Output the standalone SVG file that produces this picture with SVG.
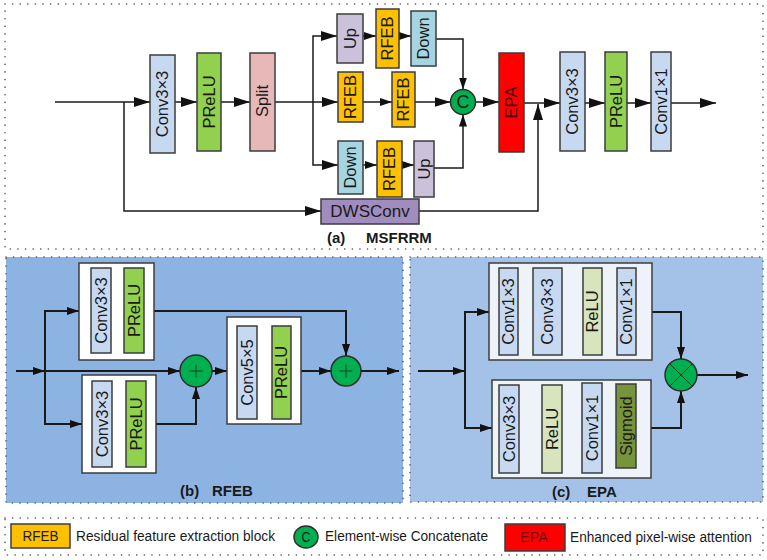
<svg xmlns="http://www.w3.org/2000/svg" width="767" height="560" viewBox="0 0 767 560">
<style>
.bg{fill:#ffffff}
.dot{fill:none;stroke:#555;stroke-width:1.6;stroke-dasharray:0.1 7.5;stroke-linecap:round}
.blk{stroke:#3d3d3d;stroke-width:1.5}
.conv{fill:#c6d9f1}
.prelu{fill:#92d050}
.split{fill:#e6b9b8}
.up{fill:#ccc1da}
.rfeb{fill:#ffc000}
.down{fill:#a5d5e0}
.epa{fill:#ff0000}
.dws{fill:#a08cbe}
.relu{fill:#d7e4bd}
.sig{fill:#77933c}
.wbox{fill:#ffffff}
.lbox{fill:#eef3fa}
.circ{fill:#00b050;stroke:#2d2d2d;stroke-width:1.5}
.t{font-family:"Liberation Sans",Arial,sans-serif;font-size:16.5px;fill:#1a1a1a;text-anchor:middle}
.lab{font-family:"Liberation Sans",Arial,sans-serif;font-size:15px;font-weight:bold;fill:#1a1a1a}
.leg{font-family:"Liberation Sans",Arial,sans-serif;font-size:14px;fill:#1a1a1a}
.ln{fill:none;stroke:#1a1a1a;stroke-width:1.5}
.ln2{fill:none;stroke:#1a1a1a;stroke-width:2}
.ln1{fill:none;stroke:#1a1a1a;stroke-width:1}
.sym{fill:none;stroke:#1f3d1f;stroke-width:1}
</style>
<defs>
<marker id="aL" markerWidth="16" markerHeight="10" refX="16" refY="5" orient="auto" markerUnits="userSpaceOnUse"><path d="M0,0 L16,5 L0,10 z" fill="#111"/></marker>
<marker id="aM" markerWidth="12" markerHeight="8" refX="12" refY="4" orient="auto" markerUnits="userSpaceOnUse"><path d="M0,0 L12,4 L0,8 z" fill="#111"/></marker>
<marker id="aS" markerWidth="8" markerHeight="6" refX="8" refY="3" orient="auto" markerUnits="userSpaceOnUse"><path d="M0,0 L8,3 L0,6 z" fill="#111"/></marker>
</defs>
<rect x="0" y="0" width="767" height="560" class="bg"/>

<!-- section frames -->
<g id="frames">
<rect x="5" y="4" width="758" height="245" class="dot"/>
<rect x="6" y="257" width="397" height="246" fill="#8db3e2"/>
<rect x="6" y="257" width="397" height="246" class="dot"/>
<rect x="410" y="257" width="353" height="245" fill="#a4c2e8"/>
<rect x="410" y="257" width="353" height="245" class="dot"/>
<rect x="5" y="518" width="758" height="37" class="dot"/>
</g>

<!-- connectors -->
<g id="connectors">
<!-- (a) -->
<path d="M55,102 H150" class="ln" marker-end="url(#aL)"/>
<path d="M175,102 H197" class="ln" marker-end="url(#aL)"/>
<path d="M221,102 H250" class="ln" marker-end="url(#aL)"/>
<path d="M275,102 H338" class="ln" marker-end="url(#aL)"/>
<path d="M313,102 V36 H337" class="ln" marker-end="url(#aL)"/>
<path d="M313,102 V165 H338" class="ln" marker-end="url(#aL)"/>
<path d="M363,36 H376" class="ln" marker-end="url(#aM)"/>
<path d="M399,36 H411" class="ln" marker-end="url(#aM)"/>
<path d="M436,39 H463 V89.5" class="ln" marker-end="url(#aM)"/>
<path d="M363,102 H392" class="ln" marker-end="url(#aM)"/>
<path d="M415,102 H450.5" class="ln" marker-end="url(#aL)"/>
<path d="M363,165 H377" class="ln" marker-end="url(#aM)"/>
<path d="M402,165 H414" class="ln" marker-end="url(#aM)"/>
<path d="M434,168 H463 V114.5" class="ln" marker-end="url(#aM)"/>
<path d="M475.5,102 H499" class="ln" marker-end="url(#aL)"/>
<path d="M524,103 H560" class="ln" marker-end="url(#aL)"/>
<path d="M585,103 H605" class="ln" marker-end="url(#aL)"/>
<path d="M627,103 H651" class="ln" marker-end="url(#aL)"/>
<path d="M671,103 H716" class="ln" marker-end="url(#aL)"/>
<path d="M124,102 V211 H321" class="ln" marker-end="url(#aL)"/>
<path d="M419,211 H538 V104" class="ln" marker-end="url(#aL)"/>
<!-- (b) -->
<path d="M16,371 H45" class="ln2" marker-end="url(#aM)"/>
<path d="M45,371 V311 H79" class="ln2" marker-end="url(#aM)"/>
<path d="M45,371 V424 H82" class="ln2" marker-end="url(#aM)"/>
<path d="M45,371 H180" class="ln2" marker-end="url(#aM)"/>
<path d="M156,424 H196 V387" class="ln2" marker-end="url(#aM)"/>
<path d="M212,371 H227" class="ln2" marker-end="url(#aM)"/>
<path d="M257,373 H272" class="ln1" marker-end="url(#aS)"/>
<path d="M301,371 H331" class="ln2" marker-end="url(#aM)"/>
<path d="M154,311 H346 V356" class="ln2" marker-end="url(#aM)"/>
<path d="M361,371 H399" class="ln2" marker-end="url(#aM)"/>
<!-- (c) -->
<path d="M418,371 H465" class="ln2" marker-end="url(#aM)"/>
<path d="M465,371 V312 H489" class="ln2" marker-end="url(#aM)"/>
<path d="M465,371 V428 H492" class="ln2" marker-end="url(#aM)"/>
<path d="M518,312 H533" class="ln1" marker-end="url(#aS)"/>
<path d="M562,312 H583" class="ln1" marker-end="url(#aS)"/>
<path d="M602,312 H617" class="ln1" marker-end="url(#aS)"/>
<path d="M519,428 H542" class="ln1" marker-end="url(#aS)"/>
<path d="M562,428 H582" class="ln1" marker-end="url(#aS)"/>
<path d="M602,428 H616" class="ln1" marker-end="url(#aS)"/>
<path d="M652,312 H681 V359" class="ln2" marker-end="url(#aM)"/>
<path d="M651,428 H681 V391" class="ln2" marker-end="url(#aM)"/>
<path d="M697,375 H748" class="ln2" marker-end="url(#aM)"/>
</g>

<!-- (a) MSFRRM nodes -->
<g id="a-conv3"><rect x="150" y="55" width="25" height="98" class="blk conv"/><text transform="translate(162.5,104) rotate(-90)" dy="0.35em" class="t">Conv3×3</text></g>
<g id="a-prelu"><rect x="197" y="53" width="24" height="98" class="blk prelu"/><text transform="translate(209,102) rotate(-90)" dy="0.35em" class="t">PReLU</text></g>
<g id="a-split"><rect x="250" y="53" width="25" height="98" class="blk split"/><text transform="translate(262.5,101) rotate(-90)" dy="0.35em" class="t">Split</text></g>
<g id="a-up1"><rect x="337" y="14" width="26" height="49" class="blk up"/><text transform="translate(350,38.5) rotate(-90)" dy="0.35em" class="t">Up</text></g>
<g id="a-rfeb1"><rect x="376" y="9" width="23" height="59" class="blk rfeb"/><text transform="translate(387.5,38.5) rotate(-90)" dy="0.35em" class="t">RFEB</text></g>
<g id="a-down1"><rect x="411" y="11" width="25" height="55" class="blk down"/><text transform="translate(423.5,38.5) rotate(-90)" dy="0.35em" class="t">Down</text></g>
<g id="a-rfeb2"><rect x="338" y="72" width="25" height="50" class="blk rfeb"/><text transform="translate(350.5,97) rotate(-90)" dy="0.35em" class="t">RFEB</text></g>
<g id="a-rfeb3"><rect x="392" y="72" width="23" height="55" class="blk rfeb"/><text transform="translate(403.5,99.5) rotate(-90)" dy="0.35em" class="t">RFEB</text></g>
<g id="a-down2"><rect x="338" y="141" width="25" height="53" class="blk down"/><text transform="translate(350.5,167.5) rotate(-90)" dy="0.35em" class="t">Down</text></g>
<g id="a-rfeb4"><rect x="377" y="141" width="25" height="56" class="blk rfeb"/><text transform="translate(389.5,169) rotate(-90)" dy="0.35em" class="t">RFEB</text></g>
<g id="a-up2"><rect x="414" y="141" width="20" height="56" class="blk up"/><text transform="translate(424,169) rotate(-90)" dy="0.35em" class="t">Up</text></g>
<g id="a-concat"><circle cx="463" cy="102" r="12.5" class="circ"/><text x="463" y="102" dy="0.36em" class="t" style="font-size:18px">C</text></g>
<g id="a-epa"><rect x="499" y="53" width="25" height="99" class="blk epa"/><text transform="translate(511.5,102.5) rotate(-90)" dy="0.35em" class="t" style="fill:#4a0000">EPA</text></g>
<g id="a-conv3b"><rect x="560" y="52" width="25" height="99" class="blk conv"/><text transform="translate(572.5,101.5) rotate(-90)" dy="0.35em" class="t">Conv3×3</text></g>
<g id="a-prelu2"><rect x="605" y="52" width="22" height="99" class="blk prelu"/><text transform="translate(616,101.5) rotate(-90)" dy="0.35em" class="t">PReLU</text></g>
<g id="a-conv1"><rect x="651" y="52" width="20" height="99" class="blk conv"/><text transform="translate(661,101.5) rotate(-90)" dy="0.35em" class="t">Conv1×1</text></g>
<g id="a-dws"><rect x="321" y="199" width="98" height="25" class="blk dws"/><text x="370" y="211.5" dy="0.35em" class="t" style="font-size:17px">DWSConv</text></g>
<g id="a-label"><text x="327" y="243" class="lab">(a)</text><text x="366" y="243" class="lab">MSFRRM</text></g>

<!-- (b) RFEB nodes -->
<g id="b-box1"><rect x="79" y="263" width="75" height="97" class="blk wbox"/>
<rect x="91" y="268" width="20" height="85" class="blk conv"/><text transform="translate(101,310.5) rotate(-90)" dy="0.35em" class="t">Conv3×3</text>
<rect x="124" y="268" width="20" height="85" class="blk prelu"/><text transform="translate(134,310.5) rotate(-90)" dy="0.35em" class="t">PReLU</text></g>
<g id="b-box2"><rect x="82" y="375" width="74" height="98" class="blk wbox"/>
<rect x="92" y="381" width="20" height="86" class="blk conv"/><text transform="translate(102,424) rotate(-90)" dy="0.35em" class="t">Conv3×3</text>
<rect x="126" y="381" width="20" height="86" class="blk prelu"/><text transform="translate(136,424) rotate(-90)" dy="0.35em" class="t">PReLU</text></g>
<g id="b-add1"><circle cx="196" cy="371" r="16" class="circ"/><path d="M189.5,371 H202.5 M196,364.5 V377.5" class="sym"/></g>
<g id="b-box3"><rect x="227" y="317" width="74" height="107" class="blk wbox"/>
<rect x="237" y="326" width="20" height="93" class="blk conv"/><text transform="translate(247,372.5) rotate(-90)" dy="0.35em" class="t">Conv5×5</text>
<rect x="272" y="326" width="19" height="93" class="blk prelu"/><text transform="translate(281.5,372.5) rotate(-90)" dy="0.35em" class="t">PReLU</text></g>
<g id="b-add2"><circle cx="346" cy="371" r="15" class="circ"/><path d="M339.5,371 H352.5 M346,364.5 V377.5" class="sym"/></g>
<g id="b-label"><text x="180" y="496" class="lab">(b)</text><text x="212" y="496" class="lab">RFEB</text></g>

<!-- (c) EPA nodes -->
<g id="c-box1"><rect x="489" y="263" width="163" height="97" class="blk lbox"/>
<rect x="499" y="268" width="19" height="87" class="blk conv"/><text transform="translate(508.5,311.5) rotate(-90)" dy="0.35em" class="t">Conv1×3</text>
<rect x="533" y="268" width="29" height="87" class="blk conv"/><text transform="translate(547.5,311.5) rotate(-90)" dy="0.35em" class="t">Conv3×3</text>
<rect x="583" y="268" width="19" height="87" class="blk relu"/><text transform="translate(592.5,311.5) rotate(-90)" dy="0.35em" class="t">ReLU</text>
<rect x="617" y="268" width="19" height="87" class="blk conv"/><text transform="translate(626.5,311.5) rotate(-90)" dy="0.35em" class="t">Conv1×1</text></g>
<g id="c-box2"><rect x="492" y="380" width="159" height="98" class="blk lbox"/>
<rect x="499" y="385" width="20" height="88" class="blk conv"/><text transform="translate(509,429) rotate(-90)" dy="0.35em" class="t">Conv3×3</text>
<rect x="542" y="385" width="20" height="88" class="blk relu"/><text transform="translate(552,429) rotate(-90)" dy="0.35em" class="t">ReLU</text>
<rect x="582" y="383" width="20" height="90" class="blk conv"/><text transform="translate(592,428) rotate(-90)" dy="0.35em" class="t">Conv1×1</text>
<rect x="616" y="384" width="20" height="84" class="blk sig"/><text transform="translate(626,426) rotate(-90)" dy="0.35em" class="t">Sigmoid</text></g>
<g id="c-mul"><circle cx="681" cy="375" r="16" class="circ"/><path d="M670,364 L692,386 M692,364 L670,386" class="sym"/></g>
<g id="c-label"><text x="552" y="497" class="lab">(c)</text><text x="587" y="497" class="lab">EPA</text></g>

<!-- legend -->
<g id="legend-rfeb"><rect x="11" y="524" width="59" height="24" class="blk rfeb"/><text x="40.5" y="540.5" class="leg" style="text-anchor:middle" textLength="36" lengthAdjust="spacingAndGlyphs">RFEB</text>
<text x="76" y="540.5" class="leg" textLength="199" lengthAdjust="spacingAndGlyphs">Residual feature extraction block</text></g>
<g id="legend-c"><ellipse cx="306" cy="537" rx="12" ry="11" class="circ"/><text x="306" y="542" class="leg" style="text-anchor:middle;font-size:15px" textLength="9" lengthAdjust="spacingAndGlyphs">C</text>
<text x="325" y="540.5" class="leg" textLength="163" lengthAdjust="spacingAndGlyphs">Element-wise Concatenate</text></g>
<g id="legend-epa"><rect x="505" y="524" width="60" height="27" class="blk epa"/><text x="534" y="542" class="leg" style="text-anchor:middle;fill:#7a0000" textLength="28" lengthAdjust="spacingAndGlyphs">EPA</text>
<text x="570" y="542" class="leg" textLength="182" lengthAdjust="spacingAndGlyphs">Enhanced pixel-wise attention</text></g>
</svg>
